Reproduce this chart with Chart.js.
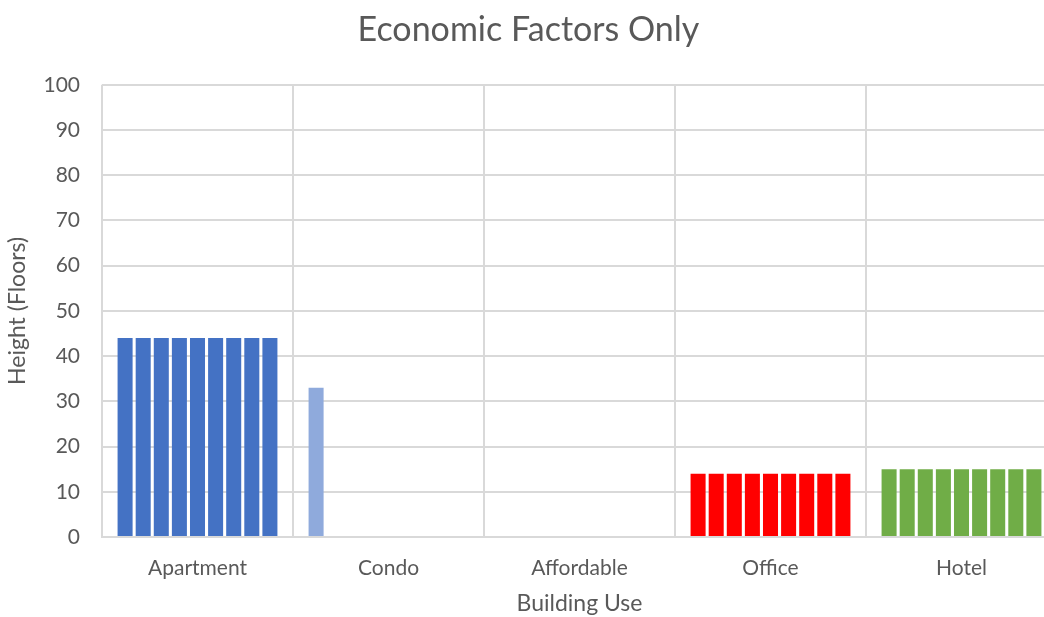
<!DOCTYPE html>
<html>
<head>
<meta charset="utf-8">
<script src="https://cdn.jsdelivr.net/npm/chart.js@4"></script>
<style>
  html, body { margin: 0; padding: 0; background: #fff; overflow: hidden; }
  #wrap { width: 1060px; height: 617px; }
</style>
</head>
<body>
<div id="wrap"><canvas id="chart" width="1060" height="617"></canvas></div>
<script>
// Categories on the x axis
const buildingUses = ["Apartment", "Condo", "Affordable", "Office", "Hotel"];

// Heights (floors) of the nine buildings in each use
const apartment = [44, 44, 44, 44, 44, 44, 44, 44, 44];
const condo = [33, 0, 0, 0, 0, 0, 0, 0, 0];
const affordable = [0, 0, 0, 0, 0, 0, 0, 0, 0];
const office = [14, 14, 14, 14, 14, 14, 14, 14, 14];
const hotel = [15, 15, 15, 15, 15, 15, 15, 15, 15];

const yTicks = [0, 10, 20, 30, 40, 50, 60, 70, 80, 90, 100];

// Bar colour for each use
const useColors = ["#4472c4", "#8faadc", "#a5a5a5", "#ff0000", "#70ad47"];

const textColor = "#595959";
const gridColor = "#d9d9d9";
const fontFamily = "Lato, 'Open Sans', sans-serif";

// one dataset per building slot, each spanning all five uses
const datasets = apartment.map(function (_, i) {
  return {
    label: "Building " + (i + 1),
    data: [apartment[i], condo[i], affordable[i], office[i], hotel[i]],
    backgroundColor: useColors,
    borderWidth: 0,
    categoryPercentage: 0.853,
    barPercentage: 0.83,
  };
});

const canvasRef = document.getElementById("chart");

const myChart = new Chart(canvasRef, {
  type: "bar",
  data: {
    labels: buildingUses,
    datasets: datasets,
  },
  options: {
    responsive: false,
    animation: false,
    layout: { padding: { left: 0, right: 3, top: 0, bottom: 0 } },
    plugins: {
      legend: { display: false },
      tooltip: { enabled: false },
      title: {
        display: true,
        text: "Economic Factors Only",
        color: textColor,
        font: { family: fontFamily, size: 34, weight: "normal" },
        padding: { top: 10, bottom: 34 },
      },
    },
    scales: {
      x: {
        grid: { color: gridColor, lineWidth: 2, drawTicks: false, offset: true },
        border: { color: gridColor, width: 2 },
        ticks: { color: textColor, font: { family: fontFamily, size: 21 }, padding: 19 },
        title: {
          display: true,
          text: "Building Use",
          color: textColor,
          font: { family: fontFamily, size: 23 },
          padding: { top: 4, bottom: 0 },
        },
        afterFit: function (scale) { scale.height = 80; },
      },
      y: {
        min: 0,
        max: 100,
        afterBuildTicks: function (scale) {
          scale.ticks = yTicks.map(function (v) { return { value: v }; });
        },
        grid: { color: gridColor, lineWidth: 2, drawTicks: false },
        border: { display: false },
        ticks: { color: textColor, font: { family: fontFamily, size: 21 }, padding: 22 },
        title: {
          display: true,
          text: "Height (Floors)",
          color: textColor,
          font: { family: fontFamily, size: 23 },
          padding: { top: 4, bottom: 0 },
        },
        afterFit: function (scale) { scale.width = 102; },
      },
    },
  },
});
</script>
</body>
</html>
